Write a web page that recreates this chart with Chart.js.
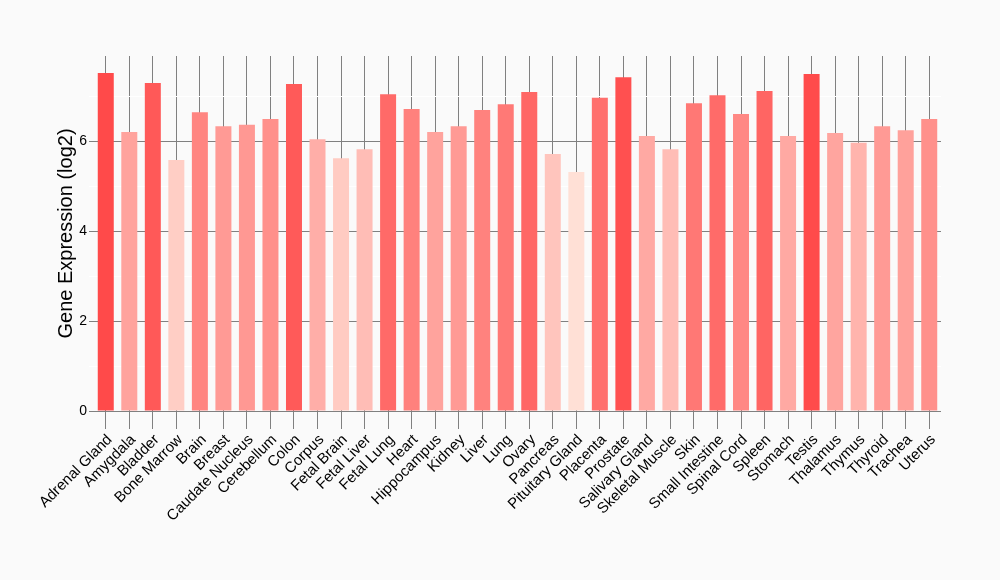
<!DOCTYPE html>
<html>
<head>
<meta charset="utf-8">
<script src="https://cdn.jsdelivr.net/npm/chart.js@4.4.1/dist/chart.umd.min.js"></script>
<style>
  html, body { margin: 0; padding: 0; background: #fafafa; }
  #wrap { width: 1000px; height: 580px; }
</style>
</head>
<body>
<div id="wrap"><canvas id="chartExpression" width="1000" height="580"></canvas></div>
<script>
const tissues = [
    'Adrenal Gland', 'Amygdala', 'Bladder', 'Bone Marrow', 'Brain', 'Breast',
    'Caudate Nucleus', 'Cerebellum', 'Colon', 'Corpus', 'Fetal Brain', 'Fetal Liver',
    'Fetal Lung', 'Heart', 'Hippocampus', 'Kidney', 'Liver', 'Lung',
    'Ovary', 'Pancreas', 'Pituitary Gland', 'Placenta', 'Prostate', 'Salivary Gland',
    'Skeletal Muscle', 'Skin', 'Small Intestine', 'Spinal Cord', 'Spleen', 'Stomach',
    'Testis', 'Thalamus', 'Thymus', 'Thyroid', 'Trachea', 'Uterus'];
const expression = [
    7.51, 6.20, 7.29, 5.58, 6.64, 6.33,
    6.36, 6.49, 7.27, 6.04, 5.62, 5.82,
    7.04, 6.71, 6.20, 6.33, 6.69, 6.82,
    7.09, 5.71, 5.31, 6.96, 7.42, 6.11,
    5.82, 6.84, 7.02, 6.60, 7.11, 6.11,
    7.49, 6.18, 5.96, 6.33, 6.24, 6.49];
const yTicks = [0, 2, 4, 6];

// fill goes from pale pink (low) to strong red (high)
function barColor(ctx) {
    const v = ctx.raw;
    const lo = Math.min(...expression), hi = Math.max(...expression);
    const t = (v - lo) / (hi - lo);
    const g = Math.round(224 - (224 - 74) * t);
    const b = Math.round(214 - (214 - 74) * t);
    return 'rgb(255,' + g + ',' + b + ')';
}

const bgPlugin = {
    id: 'bg',
    beforeDraw(chart) {
        const c = chart.ctx;
        c.save();
        c.fillStyle = '#fafafa';
        c.fillRect(0, 0, chart.width, chart.height);
        c.restore();
    }
};

const data = {
    labels: tissues,
    datasets: [
        {
            label: 'Gene Expression (log2)',
            data: expression,
            backgroundColor: barColor,
            borderWidth: 0,
            barPercentage: 0.68,
            categoryPercentage: 1.0
        }
    ]
};

const config = {
    type: 'bar',
    data: data,
    plugins: [bgPlugin],
    options: {
        responsive: false,
        animation: false,
        devicePixelRatio: 1,
        layout: { padding: { top: 56, right: 59, left: 0, bottom: 0 } },
        plugins: {
            legend: { display: false },
            tooltip: { enabled: false }
        },
        scales: {
            x: {
                offset: true,
                border: { display: false },
                grid: {
                    offset: false,
                    color: '#808080',
                    lineWidth: 1,
                    drawTicks: true,
                    tickLength: 18
                },
                ticks: {
                    autoSkip: false,
                    minRotation: 45,
                    maxRotation: 45,
                    padding: 2,
                    labelOffset: 4,
                    color: '#000',
                    font: { family: 'Liberation Sans', size: 15 }
                },
                afterFit(scale) { scale.height = 169; }
            },
            y: {
                min: 0,
                max: 7.89,
                border: { display: false },
                grid: {
                    color: (ctx) => {
                        const v = ctx.tick.value;
                        if (yTicks.includes(v)) return '#808080';
                        if (Number.isInteger(v)) return '#ffffff';
                        return 'rgba(0,0,0,0)';
                    },
                    lineWidth: 1,
                    tickLength: 5
                },
                ticks: {
                    stepSize: 1,
                    padding: 2,
                    color: '#000',
                    font: { family: 'Liberation Sans', size: 14 },
                    callback: (v) => yTicks.includes(v) ? String(v) : ''
                },
                title: {
                    display: true,
                    text: 'Gene Expression (log2)',
                    color: '#000',
                    font: { family: 'Liberation Sans', size: 20 },
                    padding: { top: 54, bottom: 0 }
                },
                afterFit(scale) { scale.width = 94; }
            }
        }
    }
};

const ctx = document.getElementById('chartExpression');
new Chart(ctx, config);
</script>
</body>
</html>
